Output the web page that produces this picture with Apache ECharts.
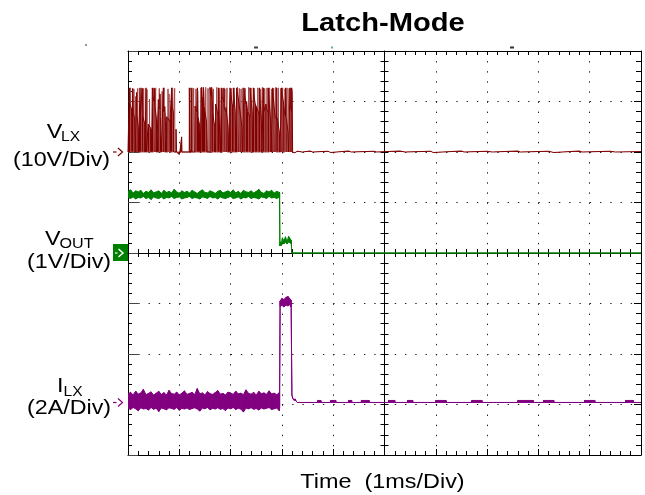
<!DOCTYPE html>
<html><head><meta charset="utf-8">
<script src="https://cdn.jsdelivr.net/npm/echarts@6/dist/echarts.min.js"></script>
<style>html,body{margin:0;padding:0;background:#fff}#c{width:645px;height:495px}</style>
</head><body><div id="c"></div>
<script>
// ---- Data (time in ms, 1 ms/div) ----
// VLX switch node voltage [t (ms), V]
const vlxPoints = [
[0.000,0],[0.026,0],[0.026,12.7],[0.034,12.6],[0.036,9.5],[0.060,8.8],[0.088,8.0],[0.091,12.6],[0.098,12.5],[0.104,7.5],[0.130,6.8],[0.140,0],
[0.165,0],[0.168,11.8],[0.175,7.2],[0.200,5.0],[0.205,0],
[0.232,0],[0.234,12.7],[0.240,12.5],[0.245,8.0],[0.276,7.8],[0.279,12.6],[0.286,12.4],[0.290,7.0],[0.328,5.5],[0.332,0],
[0.349,0],[0.351,12.7],[0.356,0],
[0.392,0],[0.396,5.5],[0.455,4.5],[0.460,0],
[0.472,0],[0.474,12.7],[0.480,12.5],[0.485,11.0],[0.510,10.0],[0.513,12.6],[0.520,12.0],[0.525,9.0],[0.555,6.5],[0.560,0],
[0.588,0],[0.591,10.4],[0.600,9.0],[0.622,8.5],[0.624,11.5],[0.632,7.0],[0.650,0],
[0.687,0],[0.689,12.7],[0.695,8.0],[0.719,9.0],[0.721,9.1],[0.730,6.0],[0.745,0],
[0.752,0],[0.754,7.0],[0.818,6.0],[0.849,6.0],[0.851,12.7],[0.858,12.4],[0.862,8.8],[0.884,8.0],[0.890,0],
[0.934,0],[0.936,4.5],[0.945,0],
[1.000,-0.5],[1.010,0],
[1.044,0],[1.046,3.0],[1.052,0],
[1.194,0],[1.196,12.7],[1.205,0.5],[1.226,0],[1.228,12.7],[1.236,12.0],[1.240,0],
[1.300,0],[1.306,9.1],[1.340,8.0],[1.350,8.0],[1.352,12.7],[1.360,12.0],[1.366,7.0],[1.400,5.0],[1.410,0],
[1.434,0],[1.436,12.8],[1.445,11.0],[1.466,10.0],[1.468,12.8],[1.478,12.0],[1.485,9.0],[1.501,9.0],[1.530,6.0],[1.545,0],
[1.596,0],[1.598,12.8],[1.608,11.5],[1.629,11.0],[1.631,12.8],[1.640,12.0],[1.648,8.0],[1.690,5.0],[1.700,0],
[1.707,0],[1.709,9.5],[1.740,8.0],[1.759,7.5],[1.761,12.7],[1.770,12.0],[1.776,7.0],[1.800,0],
[1.824,0],[1.826,12.7],[1.835,11.0],[1.869,10.0],[1.871,12.7],[1.878,8.5],[1.908,8.0],[1.910,8.8],[1.950,5.0],[1.960,0],
[1.986,0],[1.988,12.7],[2.000,12.0],[2.030,9.5],[2.051,9.0],[2.053,12.7],[2.062,11.5],[2.090,8.0],[2.100,0],
[2.116,0],[2.118,12.7],[2.125,12.0],[2.148,10.8],[2.150,10.8],[2.190,7.5],[2.220,5.0],[2.230,0],
[2.259,0],[2.261,12.7],[2.270,11.5],[2.300,9.5],[2.313,10.0],[2.330,8.0],[2.376,7.0],[2.378,12.7],[2.388,11.5],[2.420,8.0],[2.430,0],
[2.441,0],[2.443,12.7],[2.452,11.5],[2.480,9.5],[2.508,9.5],[2.520,8.5],[2.558,7.5],[2.560,12.7],[2.568,11.0],[2.600,6.0],[2.610,0],
[2.636,0],[2.638,12.7],[2.645,8.0],[2.690,9.5],[2.700,8.5],[2.733,8.0],[2.735,12.7],[2.745,11.0],[2.780,6.0],[2.790,0],
[2.818,0],[2.820,12.7],[2.830,11.0],[2.853,8.5],[2.870,7.0],[2.896,6.5],[2.898,12.7],[2.905,7.0],[2.950,4.0],[2.960,0],
[2.993,0],[2.995,12.7],[3.005,11.5],[3.028,10.0],[3.050,8.0],[3.071,7.0],[3.073,12.7],[3.080,7.0],[3.120,4.0],[3.130,0],
[3.156,0],[3.158,12.7],[3.165,9.0],[3.188,8.0],[3.190,12.7],[3.200,12.0],[3.209,0],
[3.25,-0.15],[3.30,0.15],[3.40,0],[3.55,0.2],[3.60,0],[3.90,0.15],[3.95,-0.1],[4.30,0.2],[4.35,0],[4.80,0.15],[4.85,0],
[5.30,0.2],[5.40,0],[5.90,0.15],[5.95,-0.1],[6.50,0.2],[6.55,0],[7.00,0.15],[7.10,0],[7.60,0.2],[7.65,0],
[8.20,0.15],[8.30,-0.1],[8.80,0.2],[8.85,0],[9.40,0.15],[9.50,0],[10,0.1]
];
// extra thin full-height VLX switching edges [t (ms)] and their peaks [V]
const vlxSpikeTime = [0.050,0.115,0.150,0.190,0.262,0.305,0.370,0.420,0.500,0.540,0.610,0.665,0.705,0.780,0.800,0.870,0.910,
 1.250,1.280,1.325,1.420,1.515,1.560,1.615,1.665,1.730,1.790,1.850,1.890,1.930,2.015,2.070,2.135,2.170,2.205,2.240,2.285,
 2.350,2.400,2.465,2.530,2.585,2.620,2.665,2.710,2.760,2.800,2.840,2.880,2.930,2.975,3.015,3.060,3.100,3.140,3.175];
const vlxSpikePeak = [12.7,12.5,11.0,12.6,12.7,12.6,12.4,10.5,12.7,12.7,12.6,12.0,12.7,12.5,11.5,12.7,12.6,
 12.7,12.6,12.5,12.7,12.8,12.6,12.7,12.5,12.8,12.7,12.6,12.5,12.7,12.6,12.7,12.8,12.6,12.5,12.7,12.6,
 12.8,12.7,12.6,12.7,12.5,12.8,12.6,12.7,12.7,12.5,12.6,12.8,12.7,12.6,12.7,12.5,12.7,12.6,12.7];

// VOUT output voltage band [V]
const voutTime = [0,0.05,0.10,0.15,0.20,0.25,0.30,0.35,0.40,0.45, 0.50,0.55,0.60,0.65,0.70,0.75,0.80,0.85,0.90,0.95,
 1.00,1.05,1.10,1.15,1.20,1.25,1.30,1.35,1.40,1.45, 1.50,1.55,1.60,1.65,1.70,1.75,1.80,1.85,1.90,1.95,
 2.00,2.05,2.10,2.15,2.20,2.25,2.30,2.35,2.40,2.45, 2.50,2.55,2.60,2.65,2.70,2.75,2.80,2.85,2.90,2.95,
 2.955,2.96,2.975,2.99,3.01,3.04,3.07,3.10,3.13,3.16,3.185,3.19,10];
const voutHigh = [1.22,1.25,1.19,1.23,1.21,1.24,1.18,1.22,1.20,1.25, 1.19,1.21,1.23,1.18,1.24,1.20,1.22,1.19,1.26,1.21,
 1.18,1.23,1.20,1.22,1.19,1.24,1.21,1.18,1.22,1.25, 1.20,1.19,1.23,1.21,1.18,1.22,1.24,1.19,1.21,1.23,
 1.20,1.25,1.19,1.22,1.18,1.24,1.21,1.20,1.23,1.19, 1.22,1.26,1.20,1.18,1.23,1.21,1.24,1.19,1.22,1.20,
 1.20,0.17,0.22,0.18,0.30,0.24,0.32,0.22,0.33,0.28,0.25,0,0];
const voutLow = [1.10,1.08,1.11,1.07,1.10,1.09,1.12,1.08,1.10,1.06, 1.11,1.09,1.08,1.11,1.07,1.10,1.09,1.12,1.08,1.10,
 1.11,1.07,1.09,1.10,1.12,1.08,1.10,1.09,1.07,1.11, 1.10,1.08,1.12,1.09,1.10,1.07,1.11,1.09,1.08,1.10,
 1.12,1.08,1.09,1.11,1.07,1.10,1.09,1.12,1.08,1.10, 1.09,1.07,1.11,1.10,1.08,1.12,1.09,1.10,1.08,1.11,
 1.10,0.14,0.16,0.15,0.20,0.18,0.22,0.18,0.22,0.20,0.18,0,0];

// ILX inductor current band [A]
const ilxTime = [0,0.05,0.10,0.15,0.20,0.25,0.30,0.35,0.40,0.45, 0.50,0.55,0.60,0.65,0.70,0.75,0.80,0.85,0.90,0.95,
 1.00,1.05,1.10,1.15,1.20,1.25,1.30,1.35,1.40,1.45, 1.50,1.55,1.60,1.65,1.70,1.75,1.80,1.85,1.90,1.95,
 2.00,2.05,2.10,2.15,2.20,2.25,2.30,2.35,2.40,2.45, 2.50,2.55,2.60,2.65,2.70,2.75,2.80,2.85,2.90,2.95,
 2.955,2.965,3.00,3.04,3.08,3.12,3.15,3.18,3.195,3.21,3.23,3.26,3.28,3.30,
 3.70,3.70,3.76,3.76, 3.95,3.95,4.05,4.05, 4.30,4.30,4.36,4.36, 4.55,4.55,4.70,4.70, 5.08,5.08,5.20,5.20,
 5.45,5.45,5.55,5.55, 6.00,6.00,6.20,6.20, 6.70,6.70,6.90,6.90, 7.60,7.60,7.90,7.90, 8.10,8.10,8.30,8.30,
 8.90,8.90,9.10,9.10, 9.70,9.70,9.85,9.85, 10];
const ilxHigh = [0.34,0.40,0.30,0.45,0.33,0.38,0.52,0.31,0.36,0.42, 0.29,0.37,0.44,0.32,0.39,0.30,0.48,0.35,0.33,0.41,
 0.30,0.37,0.46,0.32,0.36,0.40,0.31,0.55,0.34,0.38, 0.30,0.43,0.35,0.32,0.39,0.47,0.33,0.36,0.30,0.41,
 0.38,0.32,0.45,0.34,0.37,0.31,0.50,0.36,0.33,0.40, 0.30,0.44,0.35,0.38,0.32,0.46,0.34,0.37,0.31,0.39,
 0.35,4.02,4.12,4.08,4.16,4.20,4.12,4.05,0.30,0.18,0.10,0.14,0.05,0,
 0,0.08,0.08,0, 0,0.08,0.08,0, 0,0.08,0.08,0, 0,0.08,0.08,0, 0,0.08,0.08,0,
 0,0.08,0.08,0, 0,0.08,0.08,0, 0,0.08,0.08,0, 0,0.08,0.08,0, 0,0.08,0.08,0,
 0,0.08,0.08,0, 0,0.08,0.08,0, 0];
const ilxLow = [-0.22,-0.28,-0.20,-0.25,-0.33,-0.21,-0.26,-0.24,-0.30,-0.20, -0.27,-0.23,-0.36,-0.22,-0.25,-0.29,-0.21,-0.24,-0.27,-0.20,
 -0.31,-0.23,-0.26,-0.22,-0.28,-0.24,-0.21,-0.26,-0.34,-0.22, -0.25,-0.20,-0.29,-0.23,-0.26,-0.21,-0.27,-0.24,-0.32,-0.22,
 -0.25,-0.20,-0.28,-0.23,-0.26,-0.38,-0.22,-0.25,-0.21,-0.27, -0.24,-0.30,-0.22,-0.26,-0.23,-0.20,-0.28,-0.25,-0.22,-0.33,
 -0.22,3.80,3.85,3.78,3.86,3.82,3.88,3.78,0.30,0.18,0.10,0.08,0.05,0,
 0,0,0,0, 0,0,0,0, 0,0,0,0, 0,0,0,0, 0,0,0,0,
 0,0,0,0, 0,0,0,0, 0,0,0,0, 0,0,0,0, 0,0,0,0,
 0,0,0,0, 0,0,0,0, 0];

// channel settings: ground offset (divisions) and scale (units/div)
const ch = {
  vlx:  {off: 2,     perDiv: 10, color: '#800000'},
  vout: {off: 0,     perDiv: 1,  color: '#008000'},
  ilx:  {off: -2.96, perDiv: 2,  color: '#800080'}
};
const toDiv = (c, v) => v / c.perDiv + c.off;

const vlxData = vlxPoints.map(p => [p[0], toDiv(ch.vlx, p[1])]);
const vlxSpikeData = [];
vlxSpikeTime.forEach((t, i) => {
  vlxSpikeData.push([t, toDiv(ch.vlx, 0)], [t, toDiv(ch.vlx, vlxSpikePeak[i])], [t + 0.003, toDiv(ch.vlx, 0)]);
});
// band segments: [t0, lo0, hi0, t1, lo1, hi1] in divisions
function bandSegments(c, time, lo, hi) {
  const out = [];
  const n = Math.min(time.length, lo.length, hi.length);
  for (let i = 0; i < n - 1; i++) {
    out.push([time[i], toDiv(c, lo[i]), toDiv(c, hi[i]), time[i + 1], toDiv(c, lo[i + 1]), toDiv(c, hi[i + 1])]);
  }
  return out;
}
function bandSeries(c, time, lo, hi, z) {
  return {
    type: 'custom', z, clip: true,
    data: bandSegments(c, time, lo, hi),
    encode: {x: [0, 3], y: [1, 2, 4, 5]},
    renderItem: (params, api) => {
      const a = api.coord([api.value(0), api.value(2)]);
      const b = api.coord([api.value(3), api.value(5)]);
      const d = api.coord([api.value(3), api.value(4)]);
      const e = api.coord([api.value(0), api.value(1)]);
      return {type: 'polygon', shape: {points: [a, b, d, e]},
        style: {fill: c.color, stroke: c.color, lineWidth: 1}};
    }
  };
}

const chart = echarts.init(document.getElementById('c'), null, {renderer: 'canvas'});
const blk = {color: '#000', width: 1};
function xAx(position, offset, tickLen, minorLen, showLine, split) {
  return {type: 'value', min: 0, max: 10, interval: 1, position, offset,
    axisLine: {show: showLine, onZero: false, lineStyle: blk},
    axisTick: {show: true, inside: true, length: tickLen, lineStyle: blk},
    minorTick: {show: true, splitNumber: 5, length: minorLen, lineStyle: blk},
    axisLabel: {show: false},
    splitLine: split ? {show: true, lineStyle: {color: '#222', width: 1, type: [1.4, 8.7]}} : {show: false}
  };
}
function yAx(position, offset, tickLen, minorLen, showLine, split, tickColor) {
  return {type: 'value', min: -4, max: 4, interval: 1, position, offset,
    axisLine: {show: showLine, onZero: false, lineStyle: blk},
    axisTick: {show: true, inside: true, length: tickLen, lineStyle: {color: tickColor || '#000', width: 1}},
    minorTick: {show: true, splitNumber: 5, length: minorLen, lineStyle: blk},
    axisLabel: {show: false},
    splitLine: split ? {show: true, lineStyle: {color: '#222', width: 1, type: [1.4, 8.86]}} : {show: false}
  };
}

chart.setOption({
  animation: false,
  backgroundColor: '#fff',
  grid: {left: 128, top: 51, width: 513, height: 404, outerBoundsMode: 'none', containLabel: false},
  xAxis: [
    xAx('bottom', 0, 6, 4, true, true),
    xAx('top', 0, 4, 4, true, false),
    xAx('bottom', -202, 4, 4, true, false),
    xAx('top', -202, 4, 4, false, false)
  ],
  yAxis: [
    yAx('left', 0, 10, 4, true, true, '#444'),
    yAx('right', 0, 7, 5, true, false),
    yAx('left', -256.5, 4, 4, true, false),
    yAx('right', -256.5, 4, 4, false, false)
  ],
  series: [
    {type: 'line', data: vlxSpikeData, showSymbol: false, z: 3,
     lineStyle: {color: '#a84848', width: 1}},
    {type: 'line', data: vlxData, showSymbol: false, z: 3,
     lineStyle: {color: ch.vlx.color, width: 1},
     areaStyle: {color: ch.vlx.color, opacity: 1, origin: ch.vlx.off}},
    bandSeries(ch.vout, voutTime, voutLow, voutHigh, 4),
    bandSeries(ch.ilx, ilxTime, ilxLow, ilxHigh, 5)
  ]
});

const px = (t, d) => chart.convertToPixel({xAxisIndex: 0, yAxisIndex: 0}, [t, d]);
const yVlx = px(0, ch.vlx.off)[1];
const yVout = px(0, ch.vout.off)[1];
const yIlx = px(0, ch.ilx.off)[1];
const x0 = px(0, 0)[0];
const F = '"Liberation Sans", Arial, sans-serif';

function arrow(y, color) {
  return [
    {type: 'polyline', shape: {points: [[x0 - 15, y], [x0 - 11.5, y]]}, style: {stroke: color, lineWidth: 1.2, fill: null}},
    {type: 'polyline', shape: {points: [[x0 - 10, y - 4], [x0 - 5.5, y], [x0 - 10, y + 4]]}, style: {stroke: color, lineWidth: 1.2, fill: null}}
  ];
}
function txt(text, x, y, size, align, bold, sx) {
  return {type: 'text', x, y, scaleX: sx || 1.11,
    style: {text, x: 0, y: 0, font: (bold ? 'bold ' : '') + size + 'px ' + F, fill: '#000',
      textAlign: align, textVerticalAlign: 'middle', align, verticalAlign: 'middle'}};
}

const graphics = [
  txt('Latch-Mode', 383, 24, 26, 'center', true, 1.12),
  txt('Time  (1ms/Div)', 382.5, 482, 21, 'center', false, 1.115),
  txt('V', 46.7, yVlx - 20, 21, 'left'),
  txt('LX', 61, yVlx - 14.5, 14, 'left'),
  txt('(10V/Div)', 61.5, yVlx + 8, 21, 'center'),
  txt('V', 45, yVout - 14, 21, 'left'),
  txt('OUT', 59.5, yVout - 9.5, 14.5, 'left'),
  txt('(1V/Div)', 69, yVout + 9.5, 21, 'center'),
  txt('I', 57, yIlx - 16, 21, 'left'),
  txt('LX', 63.5, yIlx - 10.5, 14, 'left'),
  txt('(2A/Div)', 69, yIlx + 6, 21, 'center'),
  ...arrow(yVlx, ch.vlx.color),
  ...arrow(yIlx, ch.ilx.color),
  {type: 'rect', shape: {x: x0 - 15, y: yVout - 9, width: 15, height: 17}, style: {fill: ch.vout.color}},
  {type: 'polyline', shape: {points: [[x0 - 13, yVout], [x0 - 10.5, yVout]]}, style: {stroke: '#fff', lineWidth: 1.2, fill: null}},
  {type: 'polyline', shape: {points: [[x0 - 9.5, yVout - 4], [x0 - 5, yVout], [x0 - 9.5, yVout + 4]]}, style: {stroke: '#fff', lineWidth: 1.5, fill: null}},
  {type: 'rect', shape: {x: 85, y: 44, width: 2, height: 2}, style: {fill: '#999'}},
  {type: 'rect', shape: {x: 254, y: 46.5, width: 4, height: 2}, style: {fill: '#444'}},
  {type: 'rect', shape: {x: 331, y: 46.5, width: 2, height: 2}, style: {fill: '#6aa'}},
  {type: 'rect', shape: {x: 510, y: 46.5, width: 4, height: 2}, style: {fill: '#333'}}
];
chart.setOption({graphic: graphics});
</script></body></html>
